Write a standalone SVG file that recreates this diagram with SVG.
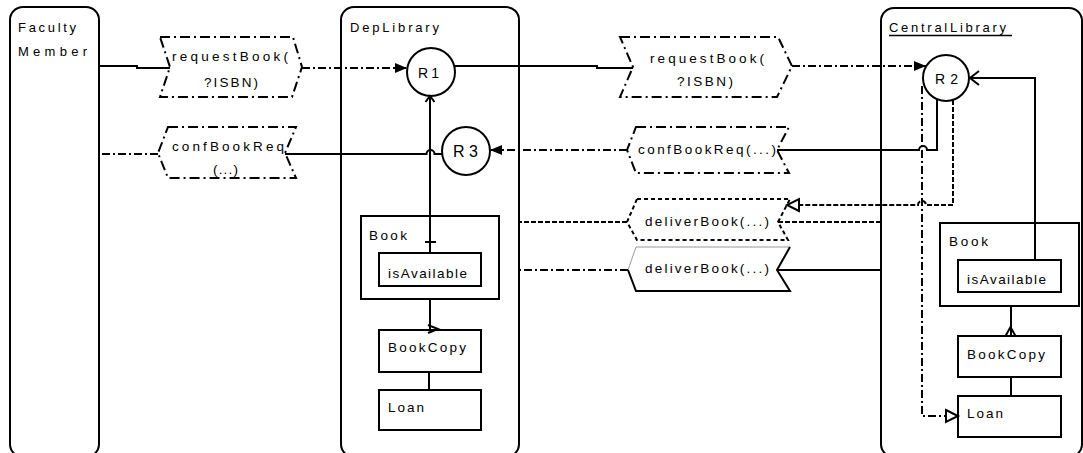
<svg xmlns="http://www.w3.org/2000/svg" width="1083" height="453" viewBox="0 0 1083 453">
<style>
.lane{fill:#fff;stroke:#000;stroke-width:2}
.box{fill:#fff;stroke:#000;stroke-width:2}
.obox{fill:none;stroke:#000;stroke-width:2}
.rc{fill:#fff;stroke:#000;stroke-width:2}
.msg{fill:#fff;stroke:#000;stroke-width:2;stroke-dasharray:10,4,2,4}
.msgdot{fill:#fff;stroke:#000;stroke-width:2;stroke-dasharray:4,3}
.sl{fill:none;stroke:#000;stroke-width:2}
.dd{fill:none;stroke:#000;stroke-width:2;stroke-dasharray:8,3,2,3}
.ds{fill:none;stroke:#000;stroke-width:2;stroke-dasharray:5,2}
text{font-family:"Liberation Sans",Arial,sans-serif;font-size:13.5px;fill:#000}
.lab{font-size:13px}
.r14{font-size:14px}
.r16{font-size:16px}
</style>
<defs>
<marker id="arrF" markerUnits="userSpaceOnUse" markerWidth="12" markerHeight="10" refX="12" refY="5" orient="auto" overflow="visible">
<path d="M0,0 L12,5 L0,10 z" fill="#000"/>
</marker>
<marker id="triO" markerUnits="userSpaceOnUse" markerWidth="12" markerHeight="12" refX="12" refY="6" orient="auto" overflow="visible">
<path d="M0,0 L12,6 L0,12 z" fill="#fff" stroke="#000" stroke-width="2"/>
</marker>
</defs>
<rect width="1083" height="453" fill="#fff"/>

<g id="lane-faculty">
<rect class="lane" x="10" y="7" width="89" height="450" rx="13"/>
<text class="lab" x="18" y="32" textLength="58" lengthAdjust="spacing">Faculty</text>
<text class="lab" x="18" y="56" textLength="69" lengthAdjust="spacing">Member</text>
</g>
<g id="lane-deplibrary">
<rect class="lane" x="341" y="7" width="178" height="450" rx="13"/>
<text class="lab" x="350" y="32" textLength="89" lengthAdjust="spacing">DepLibrary</text>
</g>
<g id="lane-central">
<rect class="lane" x="881" y="8" width="201" height="449" rx="13"/>
<text class="lab" x="889" y="32" textLength="117" lengthAdjust="spacing">CentralLibrary</text>
<line x1="889" y1="35.5" x2="1012" y2="35.5" stroke="#000" stroke-width="1.5"/>
</g>

<g id="msg-requestBook-1">
<polygon class="msg" points="160,37 293,37 302,67 292,97 160,97 170,67"/>
<text x="172" y="61" textLength="116" lengthAdjust="spacing">requestBook(</text>
<text x="204" y="87" textLength="54" lengthAdjust="spacing">?ISBN)</text>
</g>
<g id="msg-confBookReq-1">
<polygon class="msg" points="168,127 296,127 285,153 296,178 168,178 158,153"/>
<text x="172" y="151" textLength="112" lengthAdjust="spacing">confBookReq</text>
<text x="213" y="174" textLength="25" lengthAdjust="spacing">(...)</text>
</g>
<g id="msg-requestBook-2">
<polygon class="msg" points="620,37 778,37 792,66 777,97 620,97 633,67"/>
<text x="650" y="63" textLength="114" lengthAdjust="spacing">requestBook(</text>
<text x="677" y="86" textLength="56" lengthAdjust="spacing">?ISBN)</text>
</g>
<g id="msg-confBookReq-2">
<polygon class="msg" points="636,127 789,127 777,150 789,173 636,173 627,150"/>
<text x="638" y="154" textLength="138" lengthAdjust="spacing">confBookReq(...)</text>
</g>
<g id="msg-deliverBook-1">
<polygon class="msgdot" points="637,199 790,199 778,222 788,240 637,240 627,222"/>
<text x="645" y="226" textLength="124" lengthAdjust="spacing">deliverBook(...)</text>
</g>
<g id="msg-deliverBook-2">
<polygon points="636,247 790,247 777,270 790,291 636,291 628,270" fill="#fff"/>
<polyline points="628,270 636,247 790,247" fill="none" stroke="#999" stroke-width="1"/>
<polyline class="sl" points="790,247 777,270 790,291 636,291 628,270"/>
<text x="645" y="273" textLength="124" lengthAdjust="spacing">deliverBook(...)</text>
</g>

<g id="R1">
<circle class="rc" cx="431" cy="72" r="24"/>
<text class="r14" x="418" y="78" textLength="21" lengthAdjust="spacing">R 1</text>
</g>
<g id="R3">
<circle class="rc" cx="466" cy="151" r="24"/>
<text class="r16" x="453" y="157" textLength="25" lengthAdjust="spacing">R 3</text>
</g>
<g id="R2">
<circle class="rc" cx="946" cy="78" r="23"/>
<text class="r14" x="935" y="84" textLength="23" lengthAdjust="spacing">R 2</text>
</g>

<g id="dep-book">
<rect class="obox" x="361" y="216" width="138" height="83"/>
<text x="369" y="240" textLength="38" lengthAdjust="spacing">Book</text>
</g>
<g id="dep-isAvailable">
<rect class="box" x="379" y="253" width="102" height="33"/>
<text x="388" y="278" textLength="79" lengthAdjust="spacing">isAvailable</text>
</g>
<g id="dep-bookcopy">
<rect class="box" x="379" y="330" width="102" height="42"/>
<text x="388" y="352" textLength="78" lengthAdjust="spacing">BookCopy</text>
</g>
<g id="dep-loan">
<rect class="box" x="379" y="390" width="102" height="40"/>
<text x="388" y="412" textLength="36" lengthAdjust="spacing">Loan</text>
</g>

<g id="central-book">
<rect class="obox" x="940" y="223" width="139" height="83"/>
<text x="949" y="246" textLength="39" lengthAdjust="spacing">Book</text>
</g>
<g id="central-isAvailable">
<rect class="box" x="958" y="260" width="103" height="32"/>
<text x="967" y="284" textLength="79" lengthAdjust="spacing">isAvailable</text>
</g>
<g id="central-bookcopy">
<rect class="box" x="958" y="336" width="103" height="41"/>
<text x="967" y="359" textLength="78" lengthAdjust="spacing">BookCopy</text>
</g>
<g id="central-loan">
<rect class="box" x="958" y="396" width="103" height="41"/>
<text x="967" y="418" textLength="36" lengthAdjust="spacing">Loan</text>
</g>

<g id="connectors">
<path class="sl" d="M99,66 H137 V68 H170"/>
<path class="dd" d="M302,68 H407" marker-end="url(#arrF)"/>
<path class="sl" d="M454,66 H597 V68 H633"/>
<path class="dd" d="M792,66 H926" marker-end="url(#arrF)"/>
<path class="sl" d="M937,100 V150 H927 A4,4 0 0 0 919,150 H777"/>
<path class="dd" d="M627,150 H490" marker-end="url(#arrF)"/>
<path class="sl" d="M442,154 H434.5 A4,4 0 0 0 426.5,154 H285"/>
<path class="dd" d="M158,154 H99"/>
<path class="ds" d="M953,100 V205 H926 A4,4 0 0 0 918,205 H787" marker-end="url(#triO)"/>
<path class="ds" d="M881,222 H778"/>
<path class="ds" d="M627,222 H519"/>
<path class="sl" d="M881,270 H777"/>
<path class="dd" d="M628,270 H519"/>
<path class="dd" d="M922,86 V416 H958" marker-end="url(#triO)"/>
<path class="sl" d="M1035,260 V78 H970"/>
<polyline class="sl" points="979,71 970,78 979,85"/>
<path class="sl" d="M430,253 V96"/>
<polyline class="sl" points="425.5,102 430,96 434.5,102"/>
<line class="sl" x1="425" y1="242" x2="436" y2="242"/>
<path class="sl" d="M430,299 V330"/>
<polyline class="sl" points="428,325 438,329 428,333"/>
<path class="sl" d="M429,372 V390"/>
<path class="sl" d="M1011,306 V336"/>
<polyline class="sl" points="1005.5,336 1010.5,327 1015.5,336"/>
<path class="sl" d="M1011,377 V396"/>
</g>
</svg>
